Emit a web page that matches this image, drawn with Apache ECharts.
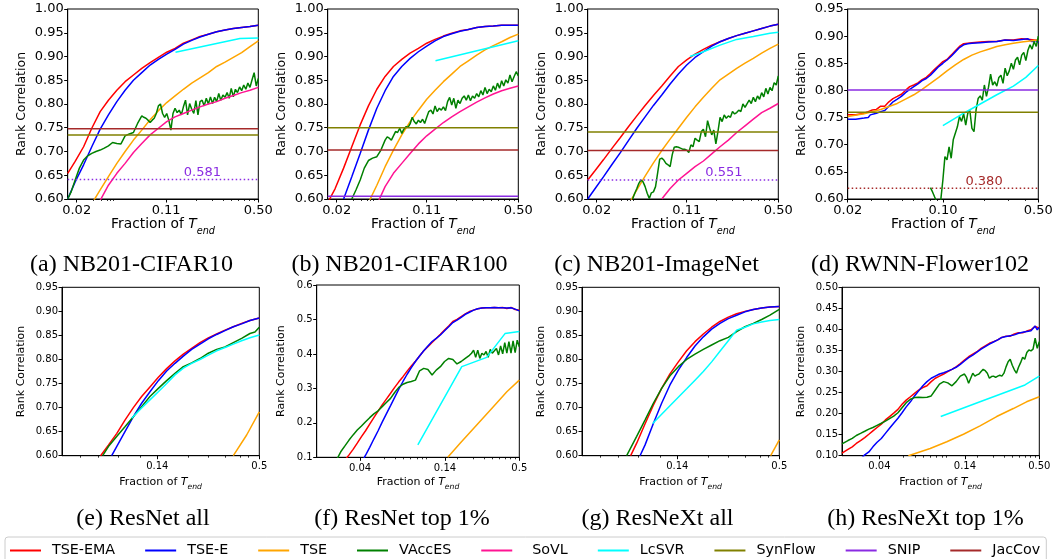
<!DOCTYPE html>
<html><head><meta charset="utf-8">
<script src="https://cdn.jsdelivr.net/npm/echarts@6/dist/echarts.min.js"></script>
<style>html,body{margin:0;padding:0;background:#fff}#c{width:1058px;height:559px}</style>
</head><body><div id="c"></div>
<script>
// ---------------- DATA ----------------
const legendNames = ['TSE-EMA','TSE-E','TSE','VAccES','SoVL','LcSVR','SynFlow','SNIP','JacCov'];
const captions = {a:'(a) NB201-CIFAR10', b:'(b) NB201-CIFAR100', c:'(c) NB201-ImageNet', d:'(d) RWNN-Flower102',
  e:'(e) ResNet all', f:'(f) ResNet top 1%', g:'(g) ResNeXt all', h:'(h) ResNeXt top 1%'};
const xRange = {a:[0.0202,0.5], b:[0.0202,0.5], c:[0.0202,0.5], d:[0.02,0.5], e:[0.0426,0.5], f:[0.0164,0.5], g:[0.0426,0.5], h:[0.018,0.5]};
const xTickValues = {a:[0.0235,0.106,0.5], b:[0.0235,0.107,0.5], c:[0.0235,0.107,0.5], d:[0.02,0.1,0.5], e:[0.14,0.5], f:[0.0341,0.1428,0.5], g:[0.14,0.5], h:[0.0338,0.1428,0.5]};
const xTickLabels = {a:['0.02','0.11','0.50'], b:['0.02','0.11','0.50'], c:['0.02','0.11','0.50'], d:['0.02','0.10','0.50'], e:['0.14','0.5'], f:['0.04','0.14','0.5'], g:['0.14','0.5'], h:['0.04','0.14','0.50']};
const topMinor = [0.0311,0.0358,0.039,0.0412,0.0436,0.1758,0.2286,0.2755,0.3184,0.3589,0.3965,0.4327,0.4667];
const resnetMinor = [0.0534,0.067,0.0861,0.1128,0.2062,0.2646,0.3259,0.393,0.4359];
const topPctMinor = [0.0509,0.0614,0.0711,0.080,0.0888,0.0968,0.104,0.1758,0.2286,0.2755,0.3184,0.3589,0.3965,0.4327,0.4667];
const xMinorTicks = {a:topMinor, b:topMinor, c:topMinor, d:[0.03,0.04,0.05,0.06,0.07,0.08,0.09,0.2,0.3,0.4], e:resnetMinor, f:topPctMinor, g:resnetMinor, h:topPctMinor};
const yRange = {a:[0.6,1.0,0.05], b:[0.6,1.0,0.05], c:[0.6,1.0,0.05], d:[0.6,0.95,0.05], e:[0.6,0.95,0.05], f:[0.1,0.6,0.1], g:[0.6,0.95,0.05], h:[0.1,0.5,0.05]};
const yDecimals = {a:2,b:2,c:2,d:2,e:2,f:1,g:2,h:2};

// horizontal baselines (value drawn), SNIP/JacCov dotted ones are out of range: label gives real value
const synflowLevel = {a:0.735, b:0.75, c:0.741, d:0.76};
const snipLevel = {a:0.641, b:0.606, c:0.64, d:0.801};
const jaccovLevel = {a:0.748, b:0.703, c:0.702, d:0.62};
const dottedNotes = {a:{series:'SNIP', text:'0.581', x:0.195}, c:{series:'SNIP', text:'0.551', x:0.2}, d:{series:'JacCov', text:'0.380', x:0.2}};

// panel (a) NB201-CIFAR10
const a_tseEma = [[0.0202,0.654],[0.0229,0.679],[0.0264,0.71],[0.0303,0.749],[0.0349,0.784],[0.0401,0.808],[0.0462,0.829],[0.0531,0.847],[0.0611,0.861],[0.0703,0.875],[0.0809,0.887],[0.0930,0.898],[0.1070,0.909],[0.1231,0.917],[0.1417,0.928],[0.1630,0.935],[0.1875,0.942],[0.2157,0.947],[0.2481,0.952],[0.2855,0.956],[0.3284,0.959],[0.3778,0.961],[0.4346,0.963],[0.5,0.966]];
const a_tseE = [[0.0202,0.60],[0.0229,0.636],[0.0264,0.672],[0.0303,0.71],[0.0349,0.747],[0.0401,0.777],[0.0462,0.805],[0.0531,0.829],[0.0611,0.85],[0.0703,0.866],[0.0809,0.882],[0.0930,0.894],[0.1070,0.905],[0.1231,0.915],[0.1417,0.926],[0.1630,0.934],[0.1875,0.941],[0.2157,0.947],[0.2481,0.952],[0.2855,0.956],[0.3284,0.959],[0.3778,0.961],[0.4346,0.963],[0.5,0.966]];
const a_tse = [[0.0303,0.59],[0.0349,0.619],[0.0401,0.647],[0.0462,0.675],[0.0531,0.70],[0.0611,0.724],[0.0703,0.745],[0.0809,0.767],[0.0930,0.786],[0.1070,0.803],[0.1231,0.817],[0.1417,0.831],[0.1630,0.844],[0.1875,0.855],[0.2157,0.866],[0.2481,0.879],[0.2855,0.888],[0.3284,0.898],[0.3778,0.908],[0.4346,0.921],[0.5,0.933]];
const a_vacces = [[0.0202,0.60],[0.0214,0.615],[0.0229,0.64],[0.0246,0.665],[0.0264,0.682],[0.0283,0.691],[0.0303,0.696],[0.0325,0.70],[0.0349,0.703],[0.0374,0.707],[0.0401,0.712],[0.0430,0.719],[0.0462,0.717],[0.0495,0.716],[0.0531,0.733],[0.0570,0.737],[0.0611,0.74],[0.0655,0.759],[0.0703,0.775],[0.0728,0.772],[0.0754,0.77],[0.0781,0.766],[0.0809,0.761],[0.0838,0.766],[0.0867,0.77],[0.0898,0.78],[0.0930,0.796],[0.0963,0.80],[0.0998,0.78],[0.1033,0.772],[0.1070,0.78],[0.1108,0.766],[0.1148,0.745],[0.1189,0.78],[0.1231,0.791],[0.1275,0.782],[0.1321,0.787],[0.1368,0.777],[0.1417,0.794],[0.1468,0.808],[0.1520,0.777],[0.1574,0.801],[0.1630,0.789],[0.1688,0.78],[0.1748,0.807],[0.1810,0.777],[0.1875,0.805],[0.1942,0.808],[0.2011,0.796],[0.2083,0.812],[0.2157,0.80],[0.2234,0.815],[0.2313,0.801],[0.2396,0.814],[0.2481,0.805],[0.2569,0.822],[0.2661,0.808],[0.2756,0.819],[0.2855,0.814],[0.2957,0.824],[0.3062,0.812],[0.3171,0.833],[0.3284,0.815],[0.3400,0.831],[0.3522,0.824],[0.3648,0.836],[0.3778,0.828],[0.3913,0.84],[0.4052,0.831],[0.4197,0.844],[0.4346,0.835],[0.4501,0.851],[0.4662,0.866],[0.4828,0.838],[0.5,0.854]];
const a_sovl = [[0.0349,0.597],[0.0401,0.629],[0.0462,0.654],[0.0531,0.675],[0.0611,0.698],[0.0703,0.717],[0.0809,0.735],[0.0930,0.749],[0.1070,0.763],[0.1231,0.773],[0.1417,0.78],[0.1630,0.787],[0.1875,0.794],[0.2157,0.80],[0.2481,0.805],[0.2855,0.812],[0.3284,0.818],[0.3778,0.824],[0.4346,0.829],[0.5,0.835]];
const a_lcsvr = [[0.124,0.909],[0.367,0.938],[0.5,0.939]];

// panel (b) NB201-CIFAR100
const b_tseEma = [[0.0202,0.592],[0.0229,0.622],[0.0264,0.665],[0.0303,0.71],[0.0349,0.756],[0.0401,0.796],[0.0462,0.831],[0.0531,0.858],[0.0611,0.879],[0.0703,0.894],[0.0809,0.907],[0.0930,0.917],[0.1070,0.928],[0.1231,0.936],[0.1417,0.943],[0.1630,0.949],[0.1875,0.954],[0.2157,0.957],[0.2481,0.961],[0.2855,0.963],[0.3284,0.964],[0.3778,0.966],[0.4346,0.966],[0.5,0.966]];
const b_tseE = [[0.0264,0.60],[0.0303,0.647],[0.0349,0.696],[0.0401,0.745],[0.0462,0.791],[0.0531,0.828],[0.0611,0.858],[0.0703,0.879],[0.0809,0.896],[0.0930,0.91],[0.1070,0.922],[0.1231,0.933],[0.1417,0.942],[0.1630,0.948],[0.1875,0.953],[0.2157,0.957],[0.2481,0.961],[0.2855,0.963],[0.3284,0.964],[0.3778,0.966],[0.4346,0.966],[0.5,0.966]];
const b_tse = [[0.0401,0.592],[0.0462,0.629],[0.0531,0.668],[0.0611,0.703],[0.0703,0.735],[0.0809,0.763],[0.0930,0.787],[0.1070,0.81],[0.1231,0.829],[0.1417,0.847],[0.1630,0.863],[0.1875,0.879],[0.2157,0.891],[0.2481,0.903],[0.2855,0.914],[0.3284,0.923],[0.3778,0.931],[0.4346,0.94],[0.5,0.947]];
const b_vacces = [[0.0303,0.60],[0.0325,0.619],[0.0349,0.64],[0.0374,0.665],[0.0401,0.681],[0.0430,0.686],[0.0462,0.689],[0.0495,0.703],[0.0531,0.724],[0.0550,0.731],[0.0570,0.728],[0.0590,0.724],[0.0611,0.733],[0.0633,0.742],[0.0655,0.74],[0.0679,0.749],[0.0703,0.738],[0.0728,0.747],[0.0754,0.752],[0.0781,0.751],[0.0809,0.758],[0.0838,0.772],[0.0867,0.763],[0.0898,0.758],[0.0930,0.766],[0.0963,0.761],[0.0998,0.768],[0.1033,0.759],[0.1070,0.772],[0.1108,0.784],[0.1148,0.787],[0.1189,0.779],[0.1231,0.796],[0.1275,0.784],[0.1321,0.791],[0.1368,0.787],[0.1417,0.794],[0.1468,0.786],[0.1520,0.805],[0.1574,0.814],[0.1630,0.798],[0.1688,0.812],[0.1748,0.791],[0.1810,0.808],[0.1875,0.801],[0.1942,0.812],[0.2011,0.817],[0.2083,0.808],[0.2157,0.819],[0.2234,0.807],[0.2313,0.817],[0.2396,0.812],[0.2481,0.822],[0.2569,0.815],[0.2661,0.828],[0.2756,0.819],[0.2855,0.835],[0.2957,0.822],[0.3062,0.831],[0.3171,0.826],[0.3284,0.838],[0.3400,0.829],[0.3522,0.844],[0.3648,0.833],[0.3778,0.849],[0.3913,0.838],[0.4052,0.851],[0.4197,0.844],[0.4346,0.861],[0.4501,0.847],[0.4662,0.858],[0.4828,0.868],[0.5,0.859]];
const b_sovl = [[0.0462,0.588],[0.0531,0.626],[0.0611,0.654],[0.0703,0.675],[0.0809,0.696],[0.0930,0.716],[0.1070,0.733],[0.1231,0.747],[0.1417,0.761],[0.1630,0.773],[0.1875,0.784],[0.2157,0.794],[0.2481,0.804],[0.2855,0.813],[0.3284,0.821],[0.3778,0.828],[0.4346,0.833],[0.5,0.838]];
const b_lcsvr = [[0.124,0.891],[0.5,0.933]];

// panel (c) NB201-ImageNet
const c_tseEma = [[0.0202,0.64],[0.0229,0.66],[0.0264,0.683],[0.0303,0.706],[0.0349,0.729],[0.0401,0.752],[0.0462,0.775],[0.0531,0.797],[0.0611,0.818],[0.0703,0.838],[0.0809,0.859],[0.0930,0.879],[0.1070,0.893],[0.1231,0.905],[0.1417,0.915],[0.1630,0.924],[0.1875,0.931],[0.2157,0.938],[0.2481,0.944],[0.2855,0.949],[0.3284,0.954],[0.3778,0.959],[0.4346,0.964],[0.5,0.968]];
const c_tseE = [[0.0202,0.60],[0.0229,0.622],[0.0264,0.647],[0.0303,0.672],[0.0349,0.697],[0.0401,0.723],[0.0462,0.749],[0.0531,0.773],[0.0611,0.797],[0.0703,0.819],[0.0809,0.842],[0.0930,0.863],[0.1070,0.882],[0.1231,0.898],[0.1417,0.91],[0.1630,0.922],[0.1875,0.931],[0.2157,0.938],[0.2481,0.944],[0.2855,0.949],[0.3284,0.954],[0.3778,0.959],[0.4346,0.964],[0.5,0.968]];
const c_tse = [[0.0401,0.588],[0.0462,0.619],[0.0531,0.648],[0.0611,0.676],[0.0703,0.702],[0.0809,0.726],[0.0930,0.749],[0.1070,0.772],[0.1231,0.794],[0.1417,0.814],[0.1630,0.833],[0.1875,0.851],[0.2157,0.863],[0.2481,0.875],[0.2855,0.886],[0.3284,0.896],[0.3778,0.907],[0.4346,0.917],[0.5,0.926]];
const c_vacces = [[0.0430,0.60],[0.0446,0.612],[0.0462,0.622],[0.0478,0.633],[0.0495,0.64],[0.0513,0.636],[0.0531,0.626],[0.0550,0.612],[0.0570,0.601],[0.0590,0.613],[0.0611,0.615],[0.0633,0.626],[0.0655,0.654],[0.0679,0.684],[0.0703,0.686],[0.0728,0.682],[0.0754,0.675],[0.0781,0.672],[0.0809,0.668],[0.0838,0.693],[0.0867,0.709],[0.0898,0.71],[0.0930,0.709],[0.0963,0.707],[0.0998,0.705],[0.1033,0.705],[0.1070,0.703],[0.1108,0.698],[0.1148,0.714],[0.1189,0.71],[0.1231,0.728],[0.1275,0.724],[0.1321,0.721],[0.1368,0.742],[0.1417,0.747],[0.1468,0.731],[0.1520,0.765],[0.1574,0.749],[0.1630,0.735],[0.1688,0.745],[0.1748,0.716],[0.1810,0.742],[0.1875,0.772],[0.1942,0.763],[0.2011,0.777],[0.2083,0.77],[0.2157,0.775],[0.2234,0.772],[0.2313,0.784],[0.2396,0.779],[0.2481,0.782],[0.2569,0.787],[0.2661,0.784],[0.2756,0.80],[0.2855,0.793],[0.2957,0.801],[0.3062,0.808],[0.3171,0.801],[0.3284,0.814],[0.3400,0.805],[0.3522,0.817],[0.3648,0.81],[0.3778,0.824],[0.3913,0.815],[0.4052,0.833],[0.4197,0.821],[0.4346,0.835],[0.4501,0.828],[0.4662,0.845],[0.4828,0.84],[0.5,0.859]];
const c_sovl = [[0.0703,0.60],[0.0809,0.622],[0.0930,0.64],[0.1070,0.654],[0.1231,0.668],[0.1417,0.68],[0.1630,0.695],[0.1875,0.71],[0.2157,0.724],[0.2481,0.74],[0.2855,0.754],[0.3284,0.768],[0.3778,0.782],[0.4346,0.791],[0.5,0.801]];
const c_lcsvr = [[0.113,0.90],[0.1417,0.91],[0.1875,0.924],[0.2481,0.936],[0.3284,0.942],[0.4346,0.949],[0.5,0.951]];

// panel (d) RWNN-Flower102
const d_tseEma = [[0.02,0.755],[0.0229,0.755],[0.0264,0.758],[0.0283,0.761],[0.0303,0.764],[0.0325,0.765],[0.0349,0.771],[0.0374,0.771],[0.0401,0.779],[0.0430,0.785],[0.0462,0.789],[0.0495,0.793],[0.0531,0.80],[0.0570,0.807],[0.0611,0.81],[0.0655,0.814],[0.0703,0.82],[0.0754,0.824],[0.0809,0.831],[0.0867,0.839],[0.0930,0.846],[0.0998,0.853],[0.1070,0.857],[0.1148,0.865],[0.1231,0.873],[0.1321,0.881],[0.1417,0.886],[0.1520,0.887],[0.1630,0.888],[0.1875,0.889],[0.2157,0.89],[0.2481,0.89],[0.2855,0.893],[0.3284,0.893],[0.3778,0.895],[0.4346,0.894],[0.4662,0.893],[0.5,0.892]];
const d_tseE = [[0.02,0.747],[0.0229,0.747],[0.0264,0.749],[0.0283,0.75],[0.0293,0.755],[0.0303,0.757],[0.0325,0.758],[0.0349,0.761],[0.0374,0.763],[0.0401,0.771],[0.0430,0.779],[0.0462,0.784],[0.0495,0.789],[0.0531,0.796],[0.0570,0.802],[0.0611,0.807],[0.0655,0.812],[0.0703,0.818],[0.0754,0.822],[0.0809,0.828],[0.0867,0.836],[0.0930,0.844],[0.0998,0.85],[0.1070,0.856],[0.1148,0.863],[0.1231,0.871],[0.1321,0.879],[0.1417,0.884],[0.1520,0.886],[0.1630,0.887],[0.1875,0.888],[0.2157,0.889],[0.2481,0.89],[0.2855,0.893],[0.3284,0.892],[0.3778,0.894],[0.4197,0.895],[0.4501,0.89],[0.4828,0.892],[0.5,0.888]];
const d_tse = [[0.02,0.752],[0.0264,0.757],[0.0349,0.765],[0.0462,0.776],[0.0531,0.784],[0.0611,0.792],[0.0703,0.802],[0.0809,0.813],[0.0930,0.824],[0.1070,0.836],[0.1231,0.847],[0.1417,0.857],[0.1630,0.865],[0.1875,0.871],[0.2157,0.876],[0.2481,0.881],[0.2855,0.884],[0.3284,0.887],[0.3778,0.889],[0.4346,0.891],[0.5,0.893]];
const d_vacces = [[0.0809,0.621],[0.0838,0.613],[0.0867,0.604],[0.0898,0.595],[0.0930,0.585],[0.0963,0.598],[0.0998,0.635],[0.1033,0.678],[0.1070,0.672],[0.1108,0.696],[0.1148,0.675],[0.1189,0.709],[0.1231,0.721],[0.1275,0.733],[0.1321,0.752],[0.1368,0.743],[0.1417,0.757],[0.1468,0.736],[0.1520,0.758],[0.1574,0.763],[0.1630,0.73],[0.1688,0.724],[0.1748,0.764],[0.1810,0.785],[0.1875,0.79],[0.1942,0.782],[0.2011,0.81],[0.2083,0.789],[0.2157,0.806],[0.2234,0.83],[0.2313,0.81],[0.2396,0.816],[0.2481,0.808],[0.2569,0.824],[0.2661,0.828],[0.2756,0.813],[0.2855,0.841],[0.2957,0.827],[0.3062,0.836],[0.3171,0.85],[0.3284,0.839],[0.3400,0.856],[0.3522,0.861],[0.3648,0.847],[0.3778,0.865],[0.3913,0.87],[0.4052,0.855],[0.4197,0.874],[0.4346,0.884],[0.4501,0.876],[0.4662,0.89],[0.4828,0.881],[0.5,0.9]];
const d_lcsvr = [[0.0998,0.735],[0.1417,0.758],[0.1875,0.775],[0.2481,0.792],[0.3284,0.808],[0.4052,0.824],[0.5,0.846]];

// panel (e) ResNet all
const e_tseEma = [[0.069,0.60],[0.076,0.622],[0.0843,0.646],[0.0935,0.674],[0.1038,0.70],[0.1151,0.723],[0.1277,0.743],[0.1418,0.763],[0.1573,0.781],[0.1746,0.797],[0.1937,0.811],[0.2149,0.823],[0.2384,0.835],[0.2646,0.845],[0.2936,0.853],[0.3258,0.861],[0.3615,0.868],[0.4011,0.875],[0.445,0.881],[0.5,0.886]];
const e_tseE = [[0.0792,0.60],[0.0843,0.619],[0.0935,0.65],[0.1038,0.681],[0.1151,0.709],[0.1277,0.733],[0.1418,0.756],[0.1573,0.776],[0.1746,0.792],[0.1937,0.807],[0.2149,0.821],[0.2384,0.832],[0.2646,0.843],[0.2936,0.852],[0.3258,0.86],[0.3615,0.868],[0.4011,0.874],[0.445,0.881],[0.5,0.886]];
const e_tse = [[0.3615,0.60],[0.427,0.643],[0.5,0.691]];
const e_vacces = [[0.0708,0.60],[0.076,0.619],[0.0843,0.64],[0.0935,0.66],[0.1038,0.681],[0.1151,0.702],[0.1277,0.723],[0.1418,0.74],[0.1573,0.756],[0.1746,0.771],[0.1937,0.785],[0.2149,0.793],[0.2384,0.802],[0.2646,0.813],[0.2936,0.821],[0.3258,0.826],[0.3615,0.835],[0.4011,0.844],[0.445,0.854],[0.4737,0.857],[0.5,0.867]];
const e_lcsvr = [[0.1016,0.678],[0.1151,0.699],[0.1277,0.716],[0.1418,0.733],[0.1573,0.75],[0.1746,0.768],[0.1937,0.782],[0.2149,0.792],[0.2384,0.80],[0.2646,0.809],[0.2936,0.818],[0.3258,0.825],[0.3615,0.832],[0.4011,0.839],[0.445,0.845],[0.5,0.851]];

// panel (f) ResNet top 1%
const f_tseEma = [[0.0264,0.092],[0.0283,0.107],[0.0303,0.123],[0.0325,0.141],[0.0349,0.16],[0.0374,0.177],[0.0401,0.196],[0.0430,0.215],[0.0462,0.234],[0.0495,0.252],[0.0531,0.269],[0.0570,0.286],[0.0611,0.303],[0.0655,0.319],[0.0703,0.334],[0.0754,0.35],[0.0809,0.365],[0.0867,0.379],[0.0930,0.394],[0.0998,0.409],[0.1070,0.421],[0.1148,0.433],[0.1231,0.445],[0.1321,0.457],[0.1417,0.469],[0.1520,0.481],[0.1630,0.494],[0.1748,0.50],[0.1875,0.508],[0.2011,0.516],[0.2157,0.523],[0.2313,0.527],[0.2481,0.531],[0.2661,0.533],[0.2855,0.534],[0.3062,0.534],[0.3284,0.535],[0.3522,0.534],[0.3778,0.535],[0.4052,0.532],[0.4346,0.535],[0.4662,0.529],[0.5,0.527]];
const f_tseE = [[0.0349,0.085],[0.0374,0.106],[0.0401,0.129],[0.0430,0.153],[0.0462,0.177],[0.0495,0.202],[0.0531,0.226],[0.0570,0.25],[0.0611,0.274],[0.0655,0.298],[0.0703,0.32],[0.0754,0.341],[0.0809,0.36],[0.0867,0.378],[0.0930,0.394],[0.0998,0.409],[0.1070,0.423],[0.1148,0.436],[0.1231,0.445],[0.1321,0.455],[0.1417,0.467],[0.1520,0.479],[0.1630,0.491],[0.1748,0.498],[0.1875,0.506],[0.2011,0.515],[0.2157,0.521],[0.2313,0.527],[0.2481,0.531],[0.2661,0.533],[0.2855,0.534],[0.3062,0.534],[0.3284,0.535],[0.3522,0.534],[0.3778,0.534],[0.4052,0.533],[0.4346,0.534],[0.4662,0.53],[0.5,0.525]];
const f_tse = [[0.1496,0.10],[0.1842,0.141],[0.2438,0.194],[0.3226,0.247],[0.4052,0.29],[0.5,0.324]];
const f_vacces = [[0.0229,0.092],[0.0246,0.116],[0.0264,0.133],[0.0283,0.15],[0.0303,0.165],[0.0325,0.179],[0.0349,0.191],[0.0374,0.203],[0.0401,0.215],[0.0430,0.226],[0.0462,0.235],[0.0495,0.247],[0.0531,0.259],[0.0570,0.271],[0.0611,0.288],[0.0655,0.303],[0.0703,0.312],[0.0754,0.317],[0.0809,0.32],[0.0867,0.324],[0.0930,0.351],[0.0998,0.358],[0.1070,0.355],[0.1148,0.339],[0.1231,0.353],[0.1321,0.363],[0.1417,0.378],[0.1520,0.387],[0.1630,0.384],[0.1748,0.371],[0.1875,0.378],[0.2011,0.387],[0.2157,0.396],[0.2234,0.402],[0.2313,0.411],[0.2396,0.39],[0.2481,0.411],[0.2569,0.387],[0.2661,0.402],[0.2756,0.397],[0.2855,0.407],[0.2957,0.39],[0.3062,0.413],[0.3171,0.402],[0.3284,0.409],[0.3400,0.416],[0.3522,0.397],[0.3648,0.423],[0.3778,0.40],[0.3913,0.433],[0.4052,0.402],[0.4197,0.436],[0.4346,0.402],[0.4501,0.438],[0.4662,0.404],[0.4828,0.44],[0.5,0.421]];
const f_lcsvr = [[0.0903,0.136],[0.1895,0.363],[0.2885,0.39],[0.3928,0.459],[0.5,0.465]];

// panel (g) ResNeXt all
const g_tseEma = [[0.0782,0.60],[0.0843,0.626],[0.0935,0.666],[0.1038,0.705],[0.1151,0.74],[0.1277,0.77],[0.1418,0.795],[0.1573,0.818],[0.1746,0.837],[0.1937,0.853],[0.2149,0.867],[0.2384,0.879],[0.2646,0.888],[0.2936,0.895],[0.3258,0.90],[0.3615,0.904],[0.4011,0.907],[0.445,0.909],[0.5,0.91]];
const g_tseE = [[0.0879,0.60],[0.0935,0.622],[0.1038,0.667],[0.1151,0.709],[0.1277,0.747],[0.1418,0.778],[0.1573,0.804],[0.1746,0.828],[0.1937,0.847],[0.2149,0.863],[0.2384,0.875],[0.2646,0.885],[0.2936,0.892],[0.3258,0.899],[0.3615,0.904],[0.4011,0.907],[0.445,0.909],[0.5,0.91]];
const g_tse = [[0.449,0.60],[0.5,0.633]];
const g_vacces = [[0.0744,0.60],[0.0843,0.64],[0.0935,0.674],[0.1038,0.709],[0.1151,0.74],[0.1277,0.766],[0.1418,0.785],[0.1573,0.80],[0.1746,0.811],[0.1937,0.821],[0.2149,0.83],[0.2384,0.839],[0.2646,0.846],[0.2936,0.858],[0.3258,0.868],[0.3615,0.875],[0.4011,0.883],[0.445,0.892],[0.5,0.904]];
const g_lcsvr = [[0.1029,0.667],[0.1277,0.704],[0.1573,0.739],[0.1746,0.757],[0.1937,0.775],[0.2149,0.795],[0.2384,0.817],[0.2646,0.839],[0.2936,0.861],[0.3258,0.867],[0.3615,0.874],[0.4011,0.878],[0.445,0.881],[0.5,0.883]];

// panel (h) ResNeXt top 1%
const h_tseEma = [[0.0180,0.106],[0.0199,0.115],[0.0214,0.121],[0.0229,0.129],[0.0246,0.136],[0.0264,0.143],[0.0283,0.151],[0.0303,0.159],[0.0325,0.167],[0.0349,0.175],[0.0374,0.185],[0.0401,0.193],[0.0430,0.201],[0.0462,0.21],[0.0495,0.222],[0.0531,0.232],[0.0570,0.24],[0.0611,0.248],[0.0655,0.256],[0.0703,0.262],[0.0754,0.266],[0.0809,0.276],[0.0867,0.284],[0.0930,0.289],[0.0998,0.294],[0.1070,0.30],[0.1148,0.305],[0.1231,0.311],[0.1321,0.319],[0.1417,0.327],[0.1520,0.335],[0.1630,0.341],[0.1748,0.347],[0.1875,0.355],[0.2011,0.361],[0.2157,0.367],[0.2313,0.371],[0.2481,0.375],[0.2661,0.381],[0.2855,0.384],[0.3062,0.384],[0.3284,0.389],[0.3522,0.392],[0.3778,0.392],[0.4052,0.396],[0.4346,0.399],[0.4662,0.407],[0.5,0.403]];
const h_tseE = [[0.0246,0.092],[0.0264,0.102],[0.0283,0.109],[0.0303,0.121],[0.0325,0.132],[0.0349,0.141],[0.0374,0.153],[0.0401,0.165],[0.0430,0.177],[0.0462,0.189],[0.0495,0.202],[0.0531,0.216],[0.0570,0.228],[0.0611,0.242],[0.0655,0.254],[0.0703,0.266],[0.0754,0.276],[0.0809,0.284],[0.0867,0.289],[0.0930,0.294],[0.0998,0.297],[0.1070,0.301],[0.1148,0.305],[0.1231,0.31],[0.1321,0.317],[0.1417,0.325],[0.1520,0.333],[0.1630,0.339],[0.1748,0.346],[0.1875,0.353],[0.2011,0.359],[0.2157,0.365],[0.2313,0.37],[0.2481,0.375],[0.2661,0.381],[0.2855,0.383],[0.3062,0.385],[0.3284,0.387],[0.3522,0.391],[0.3778,0.393],[0.4052,0.395],[0.4346,0.397],[0.4662,0.408],[0.4828,0.399],[0.5,0.405]];
const h_tse = [[0.0551,0.10],[0.0795,0.117],[0.1052,0.133],[0.1393,0.151],[0.1842,0.171],[0.2438,0.193],[0.3226,0.212],[0.4034,0.228],[0.5,0.24]];
const h_vacces = [[0.0180,0.128],[0.0199,0.136],[0.0214,0.141],[0.0229,0.148],[0.0246,0.153],[0.0264,0.158],[0.0283,0.163],[0.0303,0.167],[0.0325,0.172],[0.0349,0.177],[0.0374,0.182],[0.0401,0.188],[0.0430,0.194],[0.0462,0.202],[0.0495,0.214],[0.0531,0.226],[0.0570,0.234],[0.0611,0.238],[0.0655,0.239],[0.0703,0.238],[0.0754,0.239],[0.0809,0.242],[0.0867,0.256],[0.0930,0.27],[0.0998,0.276],[0.1070,0.273],[0.1148,0.266],[0.1231,0.276],[0.1321,0.289],[0.1417,0.294],[0.1468,0.286],[0.1520,0.272],[0.1574,0.284],[0.1630,0.296],[0.1688,0.289],[0.1748,0.292],[0.1810,0.294],[0.1875,0.30],[0.1942,0.305],[0.2011,0.302],[0.2083,0.296],[0.2157,0.284],[0.2234,0.288],[0.2313,0.289],[0.2396,0.286],[0.2481,0.289],[0.2569,0.291],[0.2661,0.289],[0.2756,0.296],[0.2855,0.311],[0.2957,0.323],[0.3062,0.329],[0.3171,0.315],[0.3284,0.304],[0.3400,0.296],[0.3522,0.31],[0.3648,0.321],[0.3778,0.334],[0.3913,0.329],[0.4052,0.345],[0.4197,0.351],[0.4346,0.349],[0.4501,0.353],[0.4662,0.379],[0.4828,0.355],[0.5,0.371]];
const h_lcsvr = [[0.095,0.193],[0.1842,0.228],[0.3928,0.268],[0.5,0.289]];

const panelSeries = {
  a:{'TSE-EMA':a_tseEma,'TSE-E':a_tseE,'TSE':a_tse,'VAccES':a_vacces,'SoVL':a_sovl,'LcSVR':a_lcsvr},
  b:{'TSE-EMA':b_tseEma,'TSE-E':b_tseE,'TSE':b_tse,'VAccES':b_vacces,'SoVL':b_sovl,'LcSVR':b_lcsvr},
  c:{'TSE-EMA':c_tseEma,'TSE-E':c_tseE,'TSE':c_tse,'VAccES':c_vacces,'SoVL':c_sovl,'LcSVR':c_lcsvr},
  d:{'TSE-EMA':d_tseEma,'TSE-E':d_tseE,'TSE':d_tse,'VAccES':d_vacces,'LcSVR':d_lcsvr},
  e:{'TSE-EMA':e_tseEma,'TSE-E':e_tseE,'TSE':e_tse,'VAccES':e_vacces,'LcSVR':e_lcsvr},
  f:{'TSE-EMA':f_tseEma,'TSE-E':f_tseE,'TSE':f_tse,'VAccES':f_vacces,'LcSVR':f_lcsvr},
  g:{'TSE-EMA':g_tseEma,'TSE-E':g_tseE,'TSE':g_tse,'VAccES':g_vacces,'LcSVR':g_lcsvr},
  h:{'TSE-EMA':h_tseEma,'TSE-E':h_tseE,'TSE':h_tse,'VAccES':h_vacces,'LcSVR':h_lcsvr}
};

// ---------------- LAYOUT / STYLE ----------------
const colors = {'TSE-EMA':'#ff0000','TSE-E':'#0000ff','TSE':'#ffa500','VAccES':'#008000','SoVL':'#ff1493','LcSVR':'#00ffff','SynFlow':'#808000','SNIP':'#8a2be2','JacCov':'#a52a2a'};
const layout = {
  a:{rect:[67.7,9,190.6,190], fs:13, nfs:12.5, xnfs:13.8, yGap:39, xGap:12, lm:5, cap:[131.5,265]},
  b:{rect:[327.7,9,190.6,190], fs:13, nfs:12.5, xnfs:13.8, yGap:39, xGap:12, lm:5, cap:[399.5,265]},
  c:{rect:[587.7,9,190.6,190], fs:13, nfs:12.5, xnfs:13.8, yGap:39, xGap:12, lm:5, cap:[656.5,265]},
  d:{rect:[847.7,9,190.6,190], fs:13, nfs:12.5, xnfs:13.8, yGap:39, xGap:12, lm:5, cap:[920,265]},
  e:{rect:[62,287.3,197.3,168.4], fs:10, nfs:11, xnfs:11, yGap:35, xGap:17, lm:6, cap:[143,519]},
  f:{rect:[316.7,285,202.6,172.3], fs:10, nfs:11, xnfs:11, yGap:30, xGap:15, lm:6, cap:[402,519]},
  g:{rect:[582,287.3,197.3,168.4], fs:10, nfs:11, xnfs:11, yGap:35, xGap:17, lm:6, cap:[657.5,519]},
  h:{rect:[842,287.3,197.3,168.4], fs:10, nfs:11, xnfs:11, yGap:35, xGap:17, lm:6, cap:[925.5,519]}
};
const FONT = 'DejaVu Sans';
const L = Math.log10;
const ids = ['a','b','c','d','e','f','g','h'];
const grids = [], xAxes = [], yAxes = [], series = [], graphics = [], minorAxes = [];

ids.forEach((id, i) => {
  const lay = layout[id];
  grids.push({left:lay.rect[0], top:lay.rect[1], width:lay.rect[2], height:lay.rect[3], show:true, borderColor:'#000', borderWidth:1, backgroundColor:'#fff'});
  const tv = xTickValues[id].map(L), tl = xTickLabels[id];
  const lab = v => { let best=0; tv.forEach((t,k)=>{ if (Math.abs(t-v) < Math.abs(tv[best]-v)) best=k; }); return tl[best]; };
  xAxes.push({
    type:'value', gridIndex:i, min:L(xRange[id][0]), max:L(xRange[id][1]),
    splitLine:{show:false},
    axisLine:{show:true, onZero:false, lineStyle:{color:'#000', width:1}},
    axisTick:{show:true, length:3.5, customValues:tv, lineStyle:{color:'#000'}},
    axisLabel:{show:true, customValues:tv, formatter:lab, fontFamily:FONT, fontSize:lay.fs, color:'#000', margin:lay.lm},
    name:'{n|Fraction of }{t|T}{s|end}', nameLocation:'middle', nameGap:lay.xGap,
    nameTextStyle:{fontFamily:FONT, color:'#000', rich:{
      n:{fontFamily:FONT, fontSize:lay.xnfs, lineHeight:lay.xnfs*1.7, verticalAlign:'middle', color:'#000'},
      t:{fontFamily:FONT, fontSize:lay.xnfs, fontStyle:'italic', lineHeight:lay.xnfs*1.7, verticalAlign:'middle', color:'#000'},
      s:{fontFamily:FONT, fontSize:lay.xnfs*0.7, fontStyle:'italic', lineHeight:lay.xnfs*1.7, verticalAlign:'bottom', color:'#000'}}}
  });
  minorAxes.push({
    type:'value', gridIndex:i, min:L(xRange[id][0]), max:L(xRange[id][1]), position:'bottom',
    splitLine:{show:false}, axisLine:{show:false},
    axisTick:{show:true, length:2, customValues:xMinorTicks[id].map(L), lineStyle:{color:'#000', width:0.8}},
    axisLabel:{show:false}
  });
  const yr = yRange[id];
  yAxes.push({
    type:'value', gridIndex:i, min:yr[0], max:yr[1], interval:yr[2],
    splitLine:{show:false},
    axisLine:{show:true, onZero:false, lineStyle:{color:'#000', width:1}},
    axisTick:{show:true, length:3.5, lineStyle:{color:'#000'}},
    axisLabel:{fontFamily:FONT, fontSize:lay.fs, color:'#000', margin:4, formatter:v=>v.toFixed(yDecimals[id])},
    name:'Rank Correlation', nameLocation:'middle', nameGap:lay.yGap,
    nameTextStyle:{fontFamily:FONT, fontSize:lay.nfs, color:'#000'}
  });
  const S = panelSeries[id];
  const xmin = xRange[id][0], xmax = xRange[id][1];
  legendNames.forEach(name => {
    let data = null, dotted = false, note = null;
    if (S[name]) data = S[name].map(p => [L(p[0]), p[1]]);
    else {
      const lvl = name==='SynFlow' ? synflowLevel[id] : name==='SNIP' ? snipLevel[id] : name==='JacCov' ? jaccovLevel[id] : undefined;
      if (lvl !== undefined) {
        data = [[L(xmin), lvl],[L(xmax), lvl]];
        if (dottedNotes[id] && dottedNotes[id].series === name) { dotted = true; note = dottedNotes[id]; }
      }
    }
    if (!data) return;
    const s = {
      type:'line', name, xAxisIndex:i, yAxisIndex:i, data, symbol:'none', showSymbol:false,
      clip:true, silent:true, animation:false,
      lineStyle:{color:colors[name], width:1.5, type: dotted ? [1.5, 2.5] : 'solid'},
      itemStyle:{color:colors[name]}
    };
    if (note) {
      s.markPoint = {symbol:'circle', symbolSize:0, silent:true, animation:false,
        data:[{coord:[L(note.x), data[0][1]], value:note.text}],
        label:{show:true, formatter:note.text, color:colors[name], fontFamily:FONT, fontSize:lay.fs, offset:[0,-7]}};
    }
    series.push(s);
  });
  graphics.push({type:'text', x:lay.cap[0], y:lay.cap[1], silent:true,
    style:{text:captions[id], fill:'#000', font:'24px "Liberation Serif"', fontFamily:'Liberation Serif', fontSize:24,
      align:'center', verticalAlign:'middle', textAlign:'center', textVerticalAlign:'middle'}});
});

const legendText = {fontFamily:FONT, fontSize:14.3, color:'#000', padding:[0,0,0,6], lineHeight:17};
const chart = echarts.init(document.getElementById('c'), null, {renderer:'canvas'});
chart.setOption({
  backgroundColor:'#fff',
  animation:false,
  grid:grids, xAxis:xAxes.concat(minorAxes), yAxis:yAxes, series,
  graphic:graphics,
  legend:{
    data:legendNames.map(n => n === 'SoVL' ? {name:n, textStyle:Object.assign({}, legendText, {padding:[0,0,0,15]})} : n),
    left:5, top:537, width:1040, orient:'horizontal', icon:'rect',
    padding:[5,6,12,5], itemGap:30, itemWidth:31, itemHeight:2,
    borderColor:'#cccccc', borderWidth:1, borderRadius:3, backgroundColor:'#fff',
    textStyle:legendText,
    selectedMode:false
  }
});
</script></body></html>
